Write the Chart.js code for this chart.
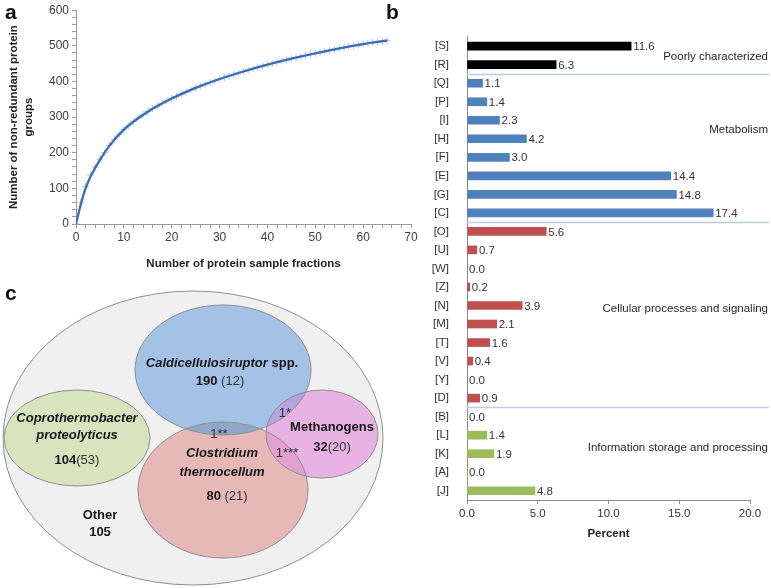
<!DOCTYPE html>
<html lang="en">
<head>
<meta charset="UTF-8">
<title>Metaproteome figure</title>
<style>
    body {
        margin: 0;
        background: #fff;
        font-family: "Liberation Sans", Arial, sans-serif;
    }
    #page {
        position: relative;
        width: 771px;
        height: 588px;
        overflow: hidden;
    }
    canvas {
        position: absolute;
    }
    .tag {
        position: absolute;
        font: bold 21px "Liberation Sans", Arial, sans-serif;
        color: #111;
        line-height: 1;
    }
</style>
</head>
<body>
<div id="page">
    <canvas id="curveChart" width="420" height="275" style="left:0px;top:0px"></canvas>
    <canvas id="cogChart" width="391" height="525" style="left:380px;top:20px"></canvas>
    <canvas id="vennChart" width="390" height="303" style="left:0px;top:285px"></canvas>
    <div class="tag" style="left:5px;top:1px">a</div>
    <div class="tag" style="left:386px;top:1px">b</div>
    <div class="tag" style="left:5px;top:282px">c</div>
</div>

<script src="https://cdn.jsdelivr.net/npm/chart.js"></script>
<script>
    // ---- panel a: accumulation curve ----
    const fractions = [0, 1, 2, 3, 4, 5, 6, 7, 8, 9, 10, 11, 12, 13, 14, 15, 16, 17, 18, 19, 20,
        21, 22, 23, 24, 25, 26, 27, 28, 29, 30, 31, 32, 33, 34, 35, 36, 37, 38, 39, 40,
        41, 42, 43, 44, 45, 46, 47, 48, 49, 50, 51, 52, 53, 54, 55, 56, 57, 58, 59, 60,
        61, 62, 63, 64, 65];
    const proteinGroups = [0, 60, 105, 138, 160, 182, 200, 221, 237, 251, 265, 276, 288, 298, 307, 316, 324, 331, 339, 346, 352,
        358, 364, 370, 376, 382, 387, 392, 397, 402, 407, 411, 415, 419, 424, 428, 432, 436, 440, 443, 447,
        450, 454, 457, 460, 464, 467, 470, 473, 476, 479, 482, 485, 487, 490, 493, 495, 498, 500, 503, 505,
        507, 509, 511, 513, 515];
    const fitX = [0, 1, 2, 3, 5, 7, 10, 15, 20, 25, 30, 35, 40, 45, 50, 55, 60, 65];
    const fitY = [0, 55, 100, 132, 180, 220, 265, 315, 352, 382, 407, 428, 447, 464, 479, 493, 505, 515];

    // ---- panel b: COG categories ----
    const cogCodes = ['[S]', '[R]', '[Q]', '[P]', '[I]', '[H]', '[F]', '[E]', '[G]', '[C]',
        '[O]', '[U]', '[W]', '[Z]', '[N]', '[M]', '[T]', '[V]', '[Y]', '[D]',
        '[B]', '[L]', '[K]', '[A]', '[J]'];
    const cogPercent = [11.6, 6.3, 1.1, 1.4, 2.3, 4.2, 3.0, 14.4, 14.8, 17.4,
        5.6, 0.7, 0.0, 0.2, 3.9, 2.1, 1.6, 0.4, 0.0, 0.9,
        0.0, 1.4, 1.9, 0.0, 4.8];
    const groupNames = ['Poorly characterized', 'Metabolism', 'Cellular processes and signaling', 'Information storage and processing'];
    const groupSizes = [2, 8, 10, 5];
    const percentTicks = [0, 5, 10, 15, 20];

    // ---- panel c: Venn of identified proteins ----
    const vennNames = ['Other', 'Coprothermobacter proteolyticus', 'Caldicellulosiruptor spp.', 'Clostridium thermocellum', 'Methanogens'];
    const vennTotals = [105, 104, 190, 80, 32];
    const vennUnique = [null, 53, 12, 21, 20];
    const sharedCounts = [1, 1, 1];          // Cald.&Clos., Cald.&Meth., Clos.&Meth.
    const sharedMarks = ['**', '*', '***'];

    Chart.defaults.font.family = '"Liberation Sans", Arial, sans-serif';
    Chart.defaults.color = '#404040';

    const groupColors = ['#000000', '#4f81bd', '#c0504d', '#9bbb59'];
    const barColors = [];
    groupSizes.forEach((n, g) => { for (let i = 0; i < n; i++) barColors.push(groupColors[g]); });

    new Chart(document.getElementById('curveChart'), {
        type: 'scatter',
        data: {
            datasets: [{
                data: fitX.map((x, i) => ({ x: x, y: fitY[i] })),
                showLine: true,
                borderColor: '#3c6db3',
                borderWidth: 2.3,
                pointRadius: 0,
                cubicInterpolationMode: 'monotone'
            }, {
                data: fractions.map((x, i) => ({ x: x, y: proteinGroups[i] })),
                pointStyle: 'cross',
                pointRadius: 3.5,
                borderColor: '#aac6e8',
                borderWidth: 1,
                showLine: false
            }]
        },
        options: {
            responsive: false,
            animation: false,
            layout: { padding: { top: 8, right: 9 } },
            plugins: { legend: { display: false }, tooltip: { enabled: false } },
            scales: {
                x: {
                    min: 0, max: 70,
                    ticks: { stepSize: 2, autoSkip: false, maxRotation: 0, padding: 2,
                        font: { size: 12 }, callback: v => v % 10 === 0 ? v : '' },
                    grid: { drawOnChartArea: false, tickLength: 4, color: '#9a9a9a' },
                    border: { color: '#9a9a9a' },
                    title: { display: true, text: 'Number of protein sample fractions', color: '#222',
                        font: { size: 11.5, weight: 'bold' }, padding: { top: 3 } },
                    afterFit: s => { s.height = 51; }
                },
                y: {
                    min: 0, max: 600,
                    ticks: { stepSize: 20, autoSkip: false, padding: 3,
                        font: { size: 12 }, callback: v => v % 100 === 0 ? v : '' },
                    grid: { drawOnChartArea: false, tickLength: 4, color: '#9a9a9a' },
                    border: { color: '#9a9a9a' },
                    title: { display: true, text: ['Number of non-redundant protein', 'groups'], color: '#222',
                        font: { size: 11.5, weight: 'bold', lineHeight: 1.3 }, padding: { top: 6 } },
                    afterFit: s => { s.width = 76; }
                }
            }
        }
    });

    // value labels, group separators and group names on the bar panel
    const cogExtras = {
        id: 'cogExtras',
        afterDatasetsDraw(chart) {
            const ctx = chart.ctx, x = chart.scales.x, y = chart.scales.y, area = chart.chartArea;
            ctx.save();
            ctx.font = '11.5px "Liberation Sans", Arial, sans-serif';
            ctx.fillStyle = '#333';
            ctx.textBaseline = 'middle';
            ctx.textAlign = 'left';
            cogPercent.forEach((v, i) => {
                ctx.fillText(v.toFixed(1), x.getPixelForValue(v) + 2, y.getPixelForValue(i) + 1);
            });
            // separators between groups
            ctx.strokeStyle = '#b9cde5';
            ctx.lineWidth = 1.5;
            let start = 0;
            groupSizes.slice(0, -1).forEach(n => {
                start += n;
                const py = Math.round(y.getPixelForValue(start - 0.5)) + 0.5;
                ctx.beginPath();
                ctx.moveTo(area.left, py);
                ctx.lineTo(chart.width - 2, py);
                ctx.stroke();
            });
            // group names, right aligned
            const anchors = [0.6, 4.5, 14.2, 21.7];
            ctx.textAlign = 'right';
            ctx.fillStyle = '#262626';
            groupNames.forEach((name, g) => {
                ctx.fillText(name, chart.width - 3, y.getPixelForValue(anchors[g]));
            });
            ctx.restore();
        }
    };

    new Chart(document.getElementById('cogChart'), {
        type: 'bar',
        data: {
            labels: cogCodes,
            datasets: [{
                data: cogPercent,
                backgroundColor: barColors,
                barThickness: 8
            }]
        },
        options: {
            indexAxis: 'y',
            responsive: false,
            animation: false,
            layout: { padding: { top: 13, right: 21 } },
            plugins: { legend: { display: false }, tooltip: { enabled: false } },
            scales: {
                x: {
                    min: 0, max: 20,
                    afterBuildTicks: s => { s.ticks = percentTicks.map(v => ({ value: v })); },
                    ticks: { maxRotation: 0, padding: 3, font: { size: 11.5 }, color: '#333',
                        callback: v => v.toFixed(1) },
                    grid: { drawOnChartArea: false, tickLength: 4, color: '#8c8c8c' },
                    border: { color: '#8c8c8c' },
                    title: { display: true, text: 'Percent', color: '#222',
                        font: { size: 11.5, weight: 'bold' }, padding: { top: 2 } },
                    afterFit: s => { s.height = 45; }
                },
                y: {
                    ticks: { padding: 10, font: { size: 11.5 }, color: '#333', autoSkip: false },
                    grid: { display: false },
                    border: { display: true, color: '#8c8c8c' },
                    afterFit: s => { s.width = 87; }
                }
            }
        },
        plugins: [cogExtras]
    });

    // Venn layout in diagram units (x 0..390, y 0..303 downwards)
    const vennShapes = [
        { cx: 193, cy: 153, rx: 190, ry: 147, fill: '#f0f0f0' },
        { cx: 77, cy: 153, rx: 73, ry: 48, fill: '#d7e4bd' },
        { cx: 223, cy: 85, rx: 88, ry: 65, fill: '#a4c1e6' },
        { cx: 223, cy: 205, rx: 85, ry: 68, fill: '#e6b9b8' },
        { cx: 322, cy: 149, rx: 56, ry: 44, fill: '#e8b2e2' }
    ];
    const overlapFills = [[2, 3, '#90a6ca'], [2, 4, '#b7a3dd'], [3, 4, '#e2a1cf']];

    const B = 'bold 13px "Liberation Sans", Arial, sans-serif';
    const BI = 'italic bold 13px "Liberation Sans", Arial, sans-serif';
    const R = '13px "Liberation Sans", Arial, sans-serif';

    function uniqueText(i, gap) {
        return [[String(vennTotals[i]), B], [gap + '(' + vennUnique[i] + ')', R]];
    }

    const vennLabels = [
        { x: 222, y: 78, runs: [['Caldicellulosiruptor', BI], [' spp.', B]] },
        { x: 220, y: 96, runs: uniqueText(2, ' ') },
        { x: 77, y: 133, runs: [[vennNames[1].split(' ')[0], BI]] },
        { x: 77, y: 150, runs: [[vennNames[1].split(' ')[1], BI]] },
        { x: 77, y: 175, runs: uniqueText(1, '') },
        { x: 222, y: 168, runs: [[vennNames[3].split(' ')[0], BI]] },
        { x: 222, y: 187, runs: [[vennNames[3].split(' ')[1], BI]] },
        { x: 227, y: 211, runs: uniqueText(3, ' ') },
        { x: 332, y: 142, runs: [[vennNames[4], B]] },
        { x: 332, y: 162, runs: uniqueText(4, '') },
        { x: 100, y: 230, runs: [[vennNames[0], B]] },
        { x: 100, y: 247, runs: [[String(vennTotals[0]), B]] },
        { x: 219, y: 149, runs: [[sharedCounts[0] + sharedMarks[0], R]] },
        { x: 285, y: 128, runs: [[sharedCounts[1] + sharedMarks[1], R]] },
        { x: 287, y: 168, runs: [[sharedCounts[2] + sharedMarks[2], R]] }
    ];

    const vennDraw = {
        id: 'vennDraw',
        afterDraw(chart) {
            const ctx = chart.ctx, x = chart.scales.x, y = chart.scales.y;
            const path = s => {
                const px = x.getPixelForValue(s.cx), py = y.getPixelForValue(s.cy);
                const rx = Math.abs(x.getPixelForValue(s.cx + s.rx) - px);
                const ry = Math.abs(y.getPixelForValue(s.cy + s.ry) - py);
                ctx.beginPath();
                ctx.ellipse(px, py, rx, ry, 0, 0, Math.PI * 2);
            };
            ctx.save();
            vennShapes.forEach(s => { path(s); ctx.fillStyle = s.fill; ctx.fill(); });
            overlapFills.forEach(([a, b, col]) => {
                ctx.save();
                path(vennShapes[a]);
                ctx.clip();
                path(vennShapes[b]);
                ctx.fillStyle = col;
                ctx.fill();
                ctx.restore();
            });
            ctx.strokeStyle = '#8f8f8f';
            ctx.lineWidth = 1;
            vennShapes.forEach(s => { path(s); ctx.stroke(); });

            ctx.textBaseline = 'middle';
            ctx.textAlign = 'left';
            vennLabels.forEach(l => {
                let w = 0;
                l.runs.forEach(([t, f]) => { ctx.font = f; w += ctx.measureText(t).width; });
                let cx = x.getPixelForValue(l.x) - w / 2;
                const cy = y.getPixelForValue(l.y);
                l.runs.forEach(([t, f]) => {
                    ctx.font = f;
                    ctx.fillStyle = f === R ? '#333' : '#161616';
                    ctx.fillText(t, cx, cy);
                    cx += ctx.measureText(t).width;
                });
            });
            ctx.restore();
        }
    };

    new Chart(document.getElementById('vennChart'), {
        type: 'scatter',
        data: { datasets: [] },
        options: {
            responsive: false,
            animation: false,
            plugins: { legend: { display: false }, tooltip: { enabled: false } },
            scales: {
                x: { type: 'linear', min: 0, max: 390, display: false },
                y: { type: 'linear', min: 0, max: 303, reverse: true, display: false }
            }
        },
        plugins: [vennDraw]
    });
</script>
</body>
</html>
